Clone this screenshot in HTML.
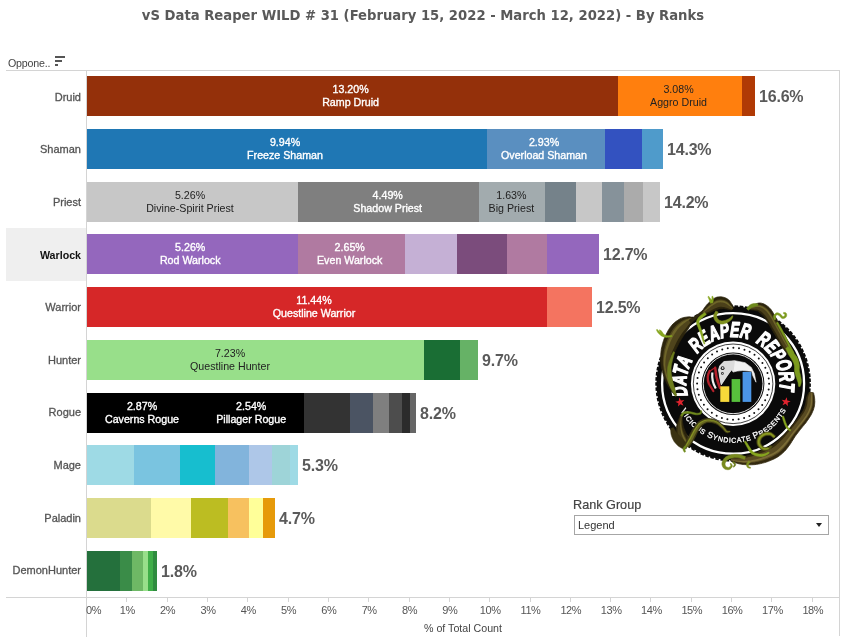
<!DOCTYPE html>
<html><head><meta charset="utf-8"><title>vS Data Reaper WILD # 31</title>
<style>
html,body{margin:0;padding:0;background:#fff;}
body{width:846px;height:640px;position:relative;overflow:hidden;font-family:"Liberation Sans",Arial,sans-serif;color:#555;}
.abs,.seg,.rl,.bl,.big,.tk,.tl,.ln{position:absolute;}
.title{position:absolute;left:0;top:5px;width:846px;text-align:center;font-family:"DejaVu Sans Condensed","Liberation Sans",sans-serif;font-weight:bold;font-size:14.67px;line-height:20px;color:#595959;white-space:nowrap;}
.ln{background:#d4d4d4;}
.rl{left:6px;width:75px;text-align:right;font-size:11px;line-height:14px;color:#555;white-space:nowrap;-webkit-text-stroke:0.3px #555;}
.bl{width:160px;margin-left:-80px;text-align:center;font-size:10.67px;line-height:13px;white-space:nowrap;}
.big{font-weight:bold;font-size:16px;letter-spacing:-0.2px;line-height:20px;color:#5a5a5a;white-space:nowrap;}
.tl{font-size:11px;letter-spacing:-0.4px;line-height:12px;color:#555;width:40px;margin-left:-20px;text-align:center;top:604px;white-space:nowrap;}
.tk{width:1px;height:5px;top:597px;background:#d4d4d4;}
</style></head><body>

<div class="title">vS Data Reaper WILD # 31 (February 15, 2022 - March 12, 2022) - By Ranks</div>
<div class="abs" style="left:8px;top:56px;font-size:10.67px;letter-spacing:-0.2px;line-height:14px;color:#444;">Oppone..</div>
<div class="abs" style="left:55px;top:56px;width:10px;height:2px;background:#555"></div>
<div class="abs" style="left:55px;top:60px;width:7px;height:2px;background:#555"></div>
<div class="abs" style="left:55px;top:64px;width:3px;height:2px;background:#555"></div>
<div class="ln" style="left:6px;top:70px;width:834px;height:1px"></div>
<div class="ln" style="left:839px;top:70px;width:1px;height:566px"></div>
<div class="ln" style="left:6px;top:597px;width:834px;height:1px"></div>
<div class="ln" style="left:86px;top:71px;width:1px;height:566px"></div>
<div class="abs" style="left:6px;top:228px;width:80px;height:53px;background:#efefef"></div>
<div class="rl" style="top:90px">Druid</div>
<div class="seg" style="left:87px;top:76px;width:531px;height:40px;background:#94300a"></div>
<div class="seg" style="left:618px;top:76px;width:124px;height:40px;background:#ff7f0e"></div>
<div class="seg" style="left:742px;top:76px;width:13px;height:40px;background:#b03a05"></div>
<div class="big" style="left:759px;top:87px">16.6%</div>
<div class="rl" style="top:142px">Shaman</div>
<div class="seg" style="left:87px;top:129px;width:400px;height:40px;background:#1f77b4"></div>
<div class="seg" style="left:487px;top:129px;width:118px;height:40px;background:#5a8fc0"></div>
<div class="seg" style="left:605px;top:129px;width:37px;height:40px;background:#3352c0"></div>
<div class="seg" style="left:642px;top:129px;width:21px;height:40px;background:#4f9bcb"></div>
<div class="big" style="left:667px;top:140px">14.3%</div>
<div class="rl" style="top:195px">Priest</div>
<div class="seg" style="left:87px;top:182px;width:211px;height:40px;background:#c7c7c7"></div>
<div class="seg" style="left:298px;top:182px;width:181px;height:40px;background:#7f7f7f"></div>
<div class="seg" style="left:479px;top:182px;width:66px;height:40px;background:#a2abae"></div>
<div class="seg" style="left:545px;top:182px;width:31px;height:40px;background:#75828a"></div>
<div class="seg" style="left:576px;top:182px;width:26px;height:40px;background:#c7c7c7"></div>
<div class="seg" style="left:602px;top:182px;width:22px;height:40px;background:#86929a"></div>
<div class="seg" style="left:624px;top:182px;width:19px;height:40px;background:#ababab"></div>
<div class="seg" style="left:643px;top:182px;width:17px;height:40px;background:#c7c7c7"></div>
<div class="big" style="left:664px;top:193px">14.2%</div>
<div class="rl" style="top:248px;font-weight:bold;font-size:10.67px;color:#111;-webkit-text-stroke:0">Warlock</div>
<div class="seg" style="left:87px;top:234px;width:211px;height:40px;background:#9467bd"></div>
<div class="seg" style="left:298px;top:234px;width:107px;height:40px;background:#b07aa1"></div>
<div class="seg" style="left:405px;top:234px;width:52px;height:40px;background:#c5b0d5"></div>
<div class="seg" style="left:457px;top:234px;width:50px;height:40px;background:#7b4c7c"></div>
<div class="seg" style="left:507px;top:234px;width:40px;height:40px;background:#b07aa1"></div>
<div class="seg" style="left:547px;top:234px;width:52px;height:40px;background:#9467bd"></div>
<div class="big" style="left:603px;top:245px">12.7%</div>
<div class="rl" style="top:300px">Warrior</div>
<div class="seg" style="left:87px;top:287px;width:460px;height:40px;background:#d62728"></div>
<div class="seg" style="left:547px;top:287px;width:45px;height:40px;background:#f47460"></div>
<div class="big" style="left:596px;top:298px">12.5%</div>
<div class="rl" style="top:353px">Hunter</div>
<div class="seg" style="left:87px;top:340px;width:337px;height:40px;background:#98df8a"></div>
<div class="seg" style="left:424px;top:340px;width:36px;height:40px;background:#1a6e34"></div>
<div class="seg" style="left:460px;top:340px;width:18px;height:40px;background:#66b266"></div>
<div class="big" style="left:482px;top:351px">9.7%</div>
<div class="rl" style="top:405px">Rogue</div>
<div class="seg" style="left:87px;top:393px;width:217px;height:40px;background:#000000"></div>
<div class="seg" style="left:304px;top:393px;width:46px;height:40px;background:#333333"></div>
<div class="seg" style="left:350px;top:393px;width:23px;height:40px;background:#4b5463"></div>
<div class="seg" style="left:373px;top:393px;width:16px;height:40px;background:#7f7f7f"></div>
<div class="seg" style="left:389px;top:393px;width:13px;height:40px;background:#4d4d4d"></div>
<div class="seg" style="left:402px;top:393px;width:8px;height:40px;background:#2b2b2b"></div>
<div class="seg" style="left:410px;top:393px;width:6px;height:40px;background:#666666"></div>
<div class="big" style="left:420px;top:404px">8.2%</div>
<div class="rl" style="top:458px">Mage</div>
<div class="seg" style="left:87px;top:445px;width:47px;height:40px;background:#9edae5"></div>
<div class="seg" style="left:134px;top:445px;width:46px;height:40px;background:#7ac4e0"></div>
<div class="seg" style="left:180px;top:445px;width:35px;height:40px;background:#17becf"></div>
<div class="seg" style="left:215px;top:445px;width:34px;height:40px;background:#82b4dc"></div>
<div class="seg" style="left:249px;top:445px;width:23px;height:40px;background:#aec7e8"></div>
<div class="seg" style="left:272px;top:445px;width:18px;height:40px;background:#9ed4d8"></div>
<div class="seg" style="left:290px;top:445px;width:8px;height:40px;background:#9edae5"></div>
<div class="big" style="left:302px;top:456px">5.3%</div>
<div class="rl" style="top:511px">Paladin</div>
<div class="seg" style="left:87px;top:498px;width:64px;height:40px;background:#dbdb8d"></div>
<div class="seg" style="left:151px;top:498px;width:40px;height:40px;background:#fffaa8"></div>
<div class="seg" style="left:191px;top:498px;width:37px;height:40px;background:#bcbd22"></div>
<div class="seg" style="left:228px;top:498px;width:21px;height:40px;background:#f7c15f"></div>
<div class="seg" style="left:249px;top:498px;width:14px;height:40px;background:#ffff99"></div>
<div class="seg" style="left:263px;top:498px;width:12px;height:40px;background:#e69a0a"></div>
<div class="big" style="left:279px;top:509px">4.7%</div>
<div class="rl" style="top:563px">DemonHunter</div>
<div class="seg" style="left:87px;top:551px;width:33px;height:40px;background:#24703c"></div>
<div class="seg" style="left:120px;top:551px;width:12px;height:40px;background:#3a8c48"></div>
<div class="seg" style="left:132px;top:551px;width:11px;height:40px;background:#6eb865"></div>
<div class="seg" style="left:143px;top:551px;width:5px;height:40px;background:#98df8a"></div>
<div class="seg" style="left:148px;top:551px;width:5px;height:40px;background:#3fae48"></div>
<div class="seg" style="left:153px;top:551px;width:4px;height:40px;background:#2f8c3f"></div>
<div class="big" style="left:161px;top:562px">1.8%</div>
<div class="bl" style="left:350.6px;top:83px;color:#fff;-webkit-text-stroke:0.35px #fff">13.20%<br>Ramp Druid</div>
<div class="bl" style="left:678.5px;top:83px;color:#222">3.08%<br>Aggro Druid</div>
<div class="bl" style="left:285.0px;top:136px;color:#fff;-webkit-text-stroke:0.35px #fff">9.94%<br>Freeze Shaman</div>
<div class="bl" style="left:544.0px;top:136px;color:#fff;-webkit-text-stroke:0.35px #fff">2.93%<br>Overload Shaman</div>
<div class="bl" style="left:190.0px;top:189px;color:#222">5.26%<br>Divine-Spirit Priest</div>
<div class="bl" style="left:387.7px;top:189px;color:#fff;-webkit-text-stroke:0.35px #fff">4.49%<br>Shadow Priest</div>
<div class="bl" style="left:511.4px;top:189px;color:#222">1.63%<br>Big Priest</div>
<div class="bl" style="left:190.2px;top:241px;color:#fff;-webkit-text-stroke:0.35px #fff">5.26%<br>Rod Warlock</div>
<div class="bl" style="left:349.7px;top:241px;color:#fff;-webkit-text-stroke:0.35px #fff">2.65%<br>Even Warlock</div>
<div class="bl" style="left:314.0px;top:294px;color:#fff;-webkit-text-stroke:0.35px #fff">11.44%<br>Questline Warrior</div>
<div class="bl" style="left:230.0px;top:347px;color:#222">7.23%<br>Questline Hunter</div>
<div class="bl" style="left:142.0px;top:400px;color:#fff;-webkit-text-stroke:0.35px #fff">2.87%<br>Caverns Rogue</div>
<div class="bl" style="left:251.2px;top:400px;color:#fff;-webkit-text-stroke:0.35px #fff">2.54%<br>Pillager Rogue</div>
<div class="tl" style="left:86px;margin-left:0;text-align:left">0%</div>
<div class="tk" style="left:126px"></div>
<div class="tl" style="left:127.3px">1%</div>
<div class="tk" style="left:167px"></div>
<div class="tl" style="left:167.6px">2%</div>
<div class="tk" style="left:207px"></div>
<div class="tl" style="left:208.0px">3%</div>
<div class="tk" style="left:247px"></div>
<div class="tl" style="left:248.3px">4%</div>
<div class="tk" style="left:288px"></div>
<div class="tl" style="left:288.6px">5%</div>
<div class="tk" style="left:328px"></div>
<div class="tl" style="left:328.9px">6%</div>
<div class="tk" style="left:368px"></div>
<div class="tl" style="left:369.2px">7%</div>
<div class="tk" style="left:409px"></div>
<div class="tl" style="left:409.6px">8%</div>
<div class="tk" style="left:449px"></div>
<div class="tl" style="left:449.9px">9%</div>
<div class="tk" style="left:489px"></div>
<div class="tl" style="left:490.2px">10%</div>
<div class="tk" style="left:530px"></div>
<div class="tl" style="left:530.5px">11%</div>
<div class="tk" style="left:570px"></div>
<div class="tl" style="left:570.8px">12%</div>
<div class="tk" style="left:610px"></div>
<div class="tl" style="left:611.2px">13%</div>
<div class="tk" style="left:650px"></div>
<div class="tl" style="left:651.5px">14%</div>
<div class="tk" style="left:691px"></div>
<div class="tl" style="left:691.8px">15%</div>
<div class="tk" style="left:731px"></div>
<div class="tl" style="left:732.1px">16%</div>
<div class="tk" style="left:771px"></div>
<div class="tl" style="left:772.4px">17%</div>
<div class="tk" style="left:812px"></div>
<div class="tl" style="left:812.8px">18%</div>
<div class="abs" style="left:363px;width:200px;text-align:center;top:622px;font-size:10.67px;line-height:13px;color:#444;">% of Total Count</div>
<div class="abs" style="left:573px;top:498px;font-size:12.67px;line-height:14px;color:#444;-webkit-text-stroke:0.2px #444;">Rank Group</div>
<div class="abs" style="left:574px;top:515px;width:253px;height:18px;border:1px solid #a6a6a6;background:#fff"></div>
<div class="abs" style="left:578px;top:518px;font-size:11px;line-height:14px;color:#333;">Legend</div>
<div class="abs" style="left:816px;top:523px;width:0;height:0;border-left:3.5px solid transparent;border-right:3.5px solid transparent;border-top:4px solid #222"></div>
<svg style="position:absolute;left:640px;top:285px" width="200" height="190" viewBox="640 285 200 190">
<defs><path id="arcTop" d="M 687.29 393.27 A 46.8 46.8 0 1 1 779.26 391.42"/><path id="arcBot" d="M 680.53 410.49 A 59 59 0 0 0 786.13 409.56"/></defs>
<ellipse cx="733.1" cy="383.4" rx="76.6" ry="76.9" fill="#0a0a0a"/>
<ellipse cx="733.1" cy="383.4" rx="76.9" ry="77.2" fill="none" stroke="#0a0a0a" stroke-width="1.8" stroke-dasharray="3.6 1.6"/>
<ellipse cx="733.1" cy="383.4" rx="71" ry="70.3" fill="none" stroke="#fff" stroke-width="2.3"/>
<circle cx="733.1" cy="383.8" r="42.2" fill="#fff"/>
<circle cx="733.1" cy="383.8" r="39.8" fill="none" stroke="#111" stroke-width="0.8"/>
<circle cx="733.1" cy="383.8" r="36" fill="none" stroke="#111" stroke-width="2" stroke-linecap="round" stroke-dasharray="0 5.655"/>
<circle cx="733.1" cy="383.8" r="31.3" fill="#0a0a0a"/>
<circle cx="733.1" cy="383.8" r="29.9" fill="none" stroke="#fff" stroke-width="0.9"/>
<path d="M719.7 365.8 L724.0 361.5 L734.9 360.7 L745.1 362.7 L751.3 367.4 L754.4 373.6 L756.0 382.2 L752.7 375.6 L751.7 371.3 L742.7 370.5 L737.2 371.1 L733.0 372.1 L731.8 369.7 L729.4 372.8 L725.5 378.3 L721.2 385.0 L719.7 377.5 L718.5 369.7 Z" fill="#f1f1f1" stroke="#f1f1f1" stroke-width="0.6" stroke-linejoin="round"/>
<path d="M724 361.5 L734.9 360.7 L733.6 371.5 L731.8 369.7 L729.4 372.8 L721.2 385 L719.7 377.5 L718.5 369.7 L719.7 365.8Z" fill="#dcdcdc"/>
<circle cx="722.6" cy="368.2" r="1.9" fill="#222"/><circle cx="722.7" cy="368" r="0.9" fill="#ddd"/>
<circle cx="722.4" cy="373.4" r="1.3" fill="#222"/><circle cx="722.5" cy="373.3" r="0.6" fill="#ddd"/>
<path d="M709.6 371 C707.4 375 707.2 380 709 384 L713.3 391" fill="none" stroke="#b3202a" stroke-width="2.3" stroke-linecap="round" stroke-linejoin="round"/>
<path d="M715.2 367.6 C715.6 375 717.5 382 720 388" fill="none" stroke="#b3202a" stroke-width="2.4" stroke-linecap="round"/>
<path d="M709.8 371.2 L714.8 367.8" fill="none" stroke="#b3202a" stroke-width="1.2" stroke-linecap="round"/>
<path d="M712.3 372.5 C711.8 378 712.8 383.5 715.8 388.5" fill="none" stroke="#f1f1f1" stroke-width="2.2"/>
<rect x="720.3" y="386.3" width="9" height="15.6" fill="#f7d93a"/>
<rect x="731.6" y="379.1" width="8.6" height="22.8" fill="#57c13c"/>
<rect x="742.6" y="371.9" width="8.7" height="30" fill="#4b96e6"/>
<path d="M0 -4.8 L1.13 -1.56 L4.57 -1.48 L1.83 0.6 L2.82 3.88 L0 1.92 L-2.82 3.88 L-1.83 0.6 L-4.57 -1.48 L-1.13 -1.56 Z" transform="translate(680.1 402.3) rotate(-10)" fill="#e0232e"/>
<path d="M0 -4.8 L1.13 -1.56 L4.57 -1.48 L1.83 0.6 L2.82 3.88 L0 1.92 L-2.82 3.88 L-1.83 0.6 L-4.57 -1.48 L-1.13 -1.56 Z" transform="translate(785.9 401.9) rotate(10)" fill="#e0232e"/>
<path id="arcW0" d="M 687.77 395.34 A 46.8 46.8 0 0 1 692.73 360.02" fill="none"/>
<text font-family="'Liberation Sans',Arial,sans-serif" font-weight="bold" font-style="italic" font-size="21" fill="#fff" stroke="#fff" stroke-width="1.5" stroke-linejoin="round" textLength="36.6" lengthAdjust="spacingAndGlyphs"><textPath href="#arcW0" textLength="36.6" lengthAdjust="spacingAndGlyphs">DATA</textPath></text>
<path id="arcW1" d="M 697.14 353.74 A 46.8 46.8 0 0 1 748.49 339.50" fill="none"/>
<text font-family="'Liberation Sans',Arial,sans-serif" font-weight="bold" font-style="italic" font-size="21" fill="#fff" stroke="#fff" stroke-width="1.5" stroke-linejoin="round" textLength="56.7" lengthAdjust="spacingAndGlyphs"><textPath href="#arcW1" textLength="56.7" lengthAdjust="spacingAndGlyphs">REAPER</textPath></text>
<path id="arcW2" d="M 755.36 342.53 A 46.8 46.8 0 0 1 779.42 390.38" fill="none"/>
<text font-family="'Liberation Sans',Arial,sans-serif" font-weight="bold" font-style="italic" font-size="21" fill="#fff" stroke="#fff" stroke-width="1.5" stroke-linejoin="round" textLength="57.0" lengthAdjust="spacingAndGlyphs"><textPath href="#arcW2" textLength="57.0" lengthAdjust="spacingAndGlyphs">REPORT</textPath></text>
<text font-family="'Liberation Sans',Arial,sans-serif" font-size="7" fill="#fff" stroke="#fff" stroke-width="0.3" textLength="130" lengthAdjust="spacing"><textPath href="#arcBot" textLength="130" lengthAdjust="spacing"><tspan font-size="8.6">V</tspan>ICIOUS <tspan font-size="8.6">S</tspan>YNDICATE <tspan font-size="8.6">P</tspan>RESENTS</textPath></text>
<g>
<path d="M676.2 394.7 L676.0 394.0 L675.7 393.0 L675.4 391.8 L675.0 390.6 L674.6 389.3 L674.3 388.2 L674.0 387.0 L673.6 385.8 L673.3 384.6 L672.9 383.4 L672.6 382.2 L672.3 380.9 L672.0 379.7 L671.7 378.4 L671.4 377.1 L671.1 375.9 L670.8 374.6 L670.7 373.2 L670.5 371.7 L670.4 370.1 L670.3 368.5 L670.2 367.0 L670.3 365.4 L670.5 364.0 L670.7 362.6 L671.1 361.1 L671.6 359.7 L672.1 358.2 L672.6 356.7 L673.1 355.3 L673.6 354.1 L674.1 353.0 L674.6 352.0 L675.1 350.9 L675.7 349.8 L676.3 348.6 L676.9 347.3 L677.5 346.2 L678.0 345.0 L678.6 343.9 L679.2 342.7 L679.9 341.6 L680.6 340.4 L681.3 339.2 L682.0 338.0 L682.8 336.8 L683.5 335.8 L684.1 334.8 L684.7 333.9 L685.4 332.9 L686.1 331.9 L686.8 330.9 L687.6 329.9 L688.2 329.0 L688.7 328.1 L689.2 327.2 L689.6 326.3 L690.1 325.5 L690.6 324.7 L691.0 324.0 L691.3 323.3 L691.7 322.8 L692.1 322.2 L692.5 321.7 L692.9 321.2 L693.2 320.9 L691.8 317.1 L691.4 317.1 L690.8 317.0 L690.0 316.9 L689.1 316.8 L688.1 316.9 L687.0 317.0 L686.0 317.2 L684.9 317.3 L683.7 317.6 L682.4 317.9 L681.1 318.4 L679.8 319.0 L678.5 319.7 L677.3 320.6 L675.9 321.5 L674.6 322.6 L673.2 323.8 L671.9 325.2 L670.7 326.7 L669.6 328.2 L668.6 329.8 L667.7 331.3 L666.9 332.9 L666.1 334.4 L665.4 335.9 L664.7 337.5 L664.1 339.0 L663.6 340.5 L663.1 342.0 L662.7 343.4 L662.3 344.9 L662.0 346.3 L661.6 347.8 L661.3 349.3 L661.1 351.0 L660.9 352.7 L660.8 354.4 L660.7 356.2 L660.7 358.1 L660.7 360.0 L660.8 362.0 L661.0 364.0 L661.2 366.0 L661.5 367.9 L662.0 369.7 L662.4 371.5 L662.9 373.2 L663.3 374.8 L663.8 376.4 L664.4 377.8 L664.9 379.2 L665.5 380.6 L666.1 381.8 L666.7 383.1 L667.3 384.3 L668.0 385.5 L668.6 386.6 L669.3 387.7 L670.0 388.8 L670.7 389.8 L671.4 390.9 L672.2 392.0 L673.0 393.0 L673.8 394.0 L674.4 394.8 L674.8 395.3Z" fill="#2c250d" stroke="#2c250d" stroke-width="0.8" stroke-linejoin="round"/>
<path d="M675.9 394.8 L675.7 394.1 L675.4 393.2 L675.0 392.0 L674.5 390.8 L674.1 389.6 L673.7 388.4 L673.3 387.3 L672.9 386.1 L672.5 385.0 L672.1 383.8 L671.7 382.5 L671.4 381.3 L671.0 380.0 L670.6 378.8 L670.3 377.5 L669.9 376.2 L669.7 374.9 L669.4 373.5 L669.2 372.0 L669.0 370.4 L668.9 368.7 L668.8 367.1 L668.8 365.5 L668.8 364.0 L669.0 362.5 L669.3 361.0 L669.7 359.4 L670.1 357.8 L670.6 356.3 L671.0 354.9 L671.5 353.6 L671.9 352.4 L672.4 351.3 L672.9 350.1 L673.4 348.9 L674.0 347.7 L674.5 346.4 L675.1 345.2 L675.7 344.0 L676.3 342.8 L676.9 341.6 L677.5 340.4 L678.2 339.1 L679.0 337.9 L679.8 336.6 L680.5 335.4 L681.3 334.2 L682.0 333.2 L682.7 332.2 L683.5 331.2 L684.4 330.2 L685.2 329.2 L686.0 328.2 L686.8 327.3 L687.4 326.4 L688.0 325.6 L688.6 324.9 L689.2 324.1 L689.8 323.4 L690.3 322.8 L690.8 322.3 L691.3 321.7 L691.7 321.3 L692.2 320.9 L692.6 320.5 L693.0 320.2 L692.1 317.9 L691.7 317.9 L691.2 318.0 L690.5 318.0 L689.7 318.1 L688.8 318.2 L687.9 318.5 L686.9 318.8 L686.0 319.1 L684.9 319.4 L683.8 319.9 L682.7 320.5 L681.6 321.1 L680.4 321.9 L679.3 322.7 L678.1 323.7 L676.8 324.8 L675.6 325.9 L674.5 327.2 L673.4 328.6 L672.4 330.0 L671.5 331.5 L670.6 333.0 L669.8 334.5 L669.0 335.9 L668.3 337.4 L667.7 338.8 L667.1 340.3 L666.5 341.7 L666.0 343.1 L665.6 344.5 L665.1 345.9 L664.7 347.3 L664.4 348.7 L664.0 350.1 L663.7 351.6 L663.5 353.2 L663.3 354.9 L663.1 356.6 L663.0 358.4 L662.9 360.3 L662.9 362.1 L662.9 364.0 L663.1 365.8 L663.4 367.7 L663.7 369.5 L664.1 371.2 L664.5 372.9 L664.9 374.5 L665.3 376.0 L665.8 377.4 L666.3 378.8 L666.8 380.1 L667.3 381.4 L667.9 382.6 L668.4 383.8 L669.0 385.0 L669.6 386.2 L670.2 387.3 L670.8 388.4 L671.4 389.5 L672.1 390.6 L672.8 391.7 L673.5 392.8 L674.2 393.8 L674.7 394.6 L675.1 395.2Z" fill="#4f441c"/>
<path d="M675.4 395.0 L675.1 394.4 L674.6 393.5 L674.1 392.5 L673.5 391.4 L672.9 390.2 L672.4 389.1 L671.8 388.0 L671.3 386.9 L670.8 385.7 L670.3 384.5 L669.8 383.3 L669.3 382.1 L668.8 380.8 L668.3 379.6 L667.9 378.3 L667.5 376.9 L667.1 375.5 L666.7 374.1 L666.4 372.5 L666.1 370.9 L665.8 369.2 L665.5 367.4 L665.4 365.7 L665.3 364.0 L665.4 362.3 L665.5 360.5 L665.7 358.8 L665.9 357.1 L666.2 355.5 L666.5 353.9 L666.8 352.4 L667.2 351.0 L667.6 349.7 L668.0 348.4 L668.5 347.1 L669.0 345.8 L669.5 344.5 L670.0 343.1 L670.5 341.8 L671.1 340.4 L671.8 339.1 L672.5 337.7 L673.2 336.3 L674.0 334.9 L674.8 333.5 L675.7 332.2 L676.6 330.9 L677.5 329.6 L678.5 328.5 L679.5 327.3 L680.6 326.3 L681.7 325.3 L682.7 324.4 L683.7 323.6 L684.6 322.9 L685.5 322.2 L686.4 321.6 L687.3 321.1 L688.1 320.6 L688.8 320.2 L689.6 319.9 L690.3 319.6 L691.0 319.3 L691.6 319.1 L692.1 319.0 L692.4 318.9 L692.2 318.3 L691.8 318.3 L691.3 318.4 L690.7 318.5 L689.9 318.6 L689.1 318.8 L688.2 319.1 L687.3 319.4 L686.4 319.8 L685.5 320.2 L684.4 320.7 L683.4 321.3 L682.3 322.0 L681.2 322.8 L680.1 323.7 L679.0 324.6 L677.8 325.7 L676.7 326.8 L675.6 328.1 L674.5 329.4 L673.6 330.8 L672.7 332.2 L671.8 333.7 L671.0 335.1 L670.3 336.6 L669.6 338.0 L668.9 339.4 L668.3 340.8 L667.8 342.2 L667.3 343.6 L666.8 345.0 L666.3 346.3 L665.9 347.7 L665.5 349.0 L665.2 350.4 L664.8 351.9 L664.6 353.5 L664.3 355.1 L664.1 356.8 L663.9 358.6 L663.8 360.4 L663.8 362.2 L663.8 364.0 L663.9 365.8 L664.2 367.6 L664.4 369.4 L664.8 371.1 L665.2 372.7 L665.5 374.3 L665.9 375.8 L666.4 377.2 L666.9 378.6 L667.4 379.9 L667.9 381.2 L668.4 382.4 L668.9 383.7 L669.5 384.9 L670.0 386.0 L670.6 387.2 L671.2 388.3 L671.8 389.3 L672.4 390.4 L673.1 391.6 L673.7 392.7 L674.3 393.7 L674.9 394.5 L675.2 395.1Z" fill="#6d6428"/>

<path d="M676.6 395.8 L676.4 395.1 L676.2 394.1 L675.9 393.0 L675.6 391.8 L675.3 390.6 L675.0 389.4 L674.7 388.3 L674.3 387.1 L674.0 386.0 L673.6 384.8 L673.3 383.6 L673.0 382.4 L672.7 381.2 L672.4 380.0 L672.2 378.7 L671.9 377.4 L671.7 376.1 L671.5 374.8 L671.3 373.5 L671.2 372.3 L671.1 371.0 L671.1 369.7 L671.1 368.5 L671.2 367.2 L671.3 366.0 L671.5 364.7 L671.8 363.3 L672.1 362.0 L672.4 360.7 L672.7 359.4 L673.1 358.1 L673.4 356.7 L673.8 355.3 L674.2 354.1 L674.5 353.0 L674.7 352.3 L673.3 351.7 L673.0 352.5 L672.5 353.5 L671.9 354.7 L671.3 356.0 L670.8 357.3 L670.3 358.6 L669.8 359.9 L669.3 361.2 L668.9 362.5 L668.5 363.9 L668.1 365.4 L667.8 366.8 L667.6 368.2 L667.5 369.6 L667.4 371.0 L667.4 372.4 L667.4 373.8 L667.5 375.2 L667.6 376.6 L667.8 378.0 L668.0 379.5 L668.3 380.9 L668.6 382.2 L669.0 383.6 L669.4 384.8 L669.9 386.1 L670.4 387.3 L670.9 388.4 L671.5 389.5 L672.0 390.6 L672.6 391.7 L673.3 392.8 L673.9 393.9 L674.5 394.8 L675.1 395.6 L675.4 396.2Z" fill="#6e7d1e" stroke="#6e7d1e" stroke-width="0.5" stroke-linejoin="round"/>

<path d="M691.0 322.9 L691.8 322.3 L692.8 321.5 L694.0 320.6 L695.3 319.6 L696.6 318.6 L697.8 317.7 L699.1 317.0 L700.5 316.2 L701.9 315.4 L703.2 314.7 L704.3 314.1 L705.1 313.7 L702.9 310.3 L702.2 310.8 L701.2 311.6 L700.0 312.5 L698.7 313.4 L697.4 314.4 L696.2 315.3 L694.9 316.1 L693.5 317.1 L692.1 318.0 L690.8 318.8 L689.8 319.6 L689.0 320.1Z" fill="#2e2710" stroke="#2e2710" stroke-width="0.5" stroke-linejoin="round"/>

<path d="M703.9 314.2 L704.5 314.1 L705.2 313.9 L706.1 313.7 L707.1 313.4 L708.1 313.1 L709.1 312.8 L710.1 312.4 L711.2 311.9 L712.2 311.4 L713.2 311.0 L714.2 310.6 L715.2 310.2 L716.2 309.8 L717.2 309.5 L718.1 309.2 L718.9 309.0 L719.4 308.9 L719.8 308.9 L720.1 308.8 L720.5 308.8 L721.0 308.8 L721.5 308.8 L722.2 308.7 L722.7 308.7 L723.2 308.6 L723.9 308.6 L724.7 308.7 L725.6 308.9 L726.6 309.1 L727.5 309.3 L728.2 309.5 L729.0 309.6 L729.7 309.7 L730.4 309.9 L731.1 310.0 L731.5 310.1 L733.5 307.9 L733.3 307.5 L733.1 306.9 L732.9 306.2 L732.5 305.3 L732.1 304.5 L731.5 303.7 L731.0 302.9 L730.4 302.0 L729.7 301.0 L728.8 300.0 L727.6 299.1 L726.3 298.3 L724.9 297.7 L723.6 297.3 L722.2 297.0 L720.6 296.8 L719.0 296.9 L717.2 297.1 L715.5 297.7 L714.1 298.4 L712.8 299.3 L711.7 300.1 L710.7 301.0 L709.8 301.8 L708.9 302.7 L707.9 303.6 L707.0 304.6 L706.2 305.5 L705.5 306.4 L704.9 307.2 L704.3 308.0 L703.7 308.9 L703.2 309.8 L702.8 310.6 L702.4 311.3 L702.1 311.8Z" fill="#2c250d" stroke="#2c250d" stroke-width="0.8" stroke-linejoin="round"/>
<path d="M703.6 313.8 L704.1 313.6 L704.8 313.3 L705.6 313.0 L706.5 312.7 L707.5 312.3 L708.4 311.9 L709.3 311.4 L710.3 310.8 L711.3 310.3 L712.3 309.7 L713.3 309.2 L714.3 308.8 L715.3 308.3 L716.3 307.9 L717.2 307.5 L718.1 307.2 L718.8 307.0 L719.3 306.9 L719.9 306.8 L720.5 306.8 L721.2 306.8 L721.9 306.8 L722.6 306.9 L723.3 306.9 L724.0 307.0 L724.7 307.2 L725.5 307.4 L726.4 307.7 L727.3 308.1 L728.2 308.4 L728.9 308.6 L729.6 308.9 L730.3 309.1 L730.9 309.4 L731.4 309.6 L731.8 309.7 L733.1 308.3 L732.9 308.0 L732.6 307.5 L732.2 306.9 L731.8 306.2 L731.3 305.5 L730.7 304.9 L730.1 304.2 L729.4 303.4 L728.6 302.6 L727.7 301.8 L726.7 301.1 L725.5 300.5 L724.4 300.0 L723.2 299.7 L721.9 299.4 L720.6 299.3 L719.2 299.4 L717.8 299.6 L716.4 300.0 L715.1 300.7 L713.9 301.3 L712.9 302.1 L711.9 302.8 L711.0 303.5 L710.0 304.3 L709.0 305.2 L708.1 306.0 L707.3 306.8 L706.5 307.6 L705.8 308.4 L705.1 309.1 L704.4 309.9 L703.8 310.6 L703.3 311.3 L702.8 311.9 L702.5 312.3Z" fill="#4b401a"/>
<path d="M702.9 312.9 L703.3 312.6 L703.9 312.1 L704.5 311.6 L705.3 311.0 L706.0 310.4 L706.8 309.8 L707.6 309.1 L708.5 308.4 L709.4 307.7 L710.4 307.0 L711.3 306.3 L712.3 305.7 L713.3 305.0 L714.2 304.4 L715.3 303.8 L716.3 303.3 L717.3 302.8 L718.4 302.5 L719.5 302.4 L720.5 302.3 L721.6 302.4 L722.7 302.6 L723.7 302.8 L724.6 303.1 L725.6 303.5 L726.5 304.0 L727.4 304.6 L728.2 305.2 L729.0 305.7 L729.7 306.3 L730.3 306.8 L730.9 307.3 L731.4 307.8 L731.9 308.3 L732.3 308.6 L732.6 308.9 L732.9 308.5 L732.7 308.2 L732.3 307.8 L731.9 307.2 L731.5 306.6 L730.9 306.0 L730.3 305.4 L729.7 304.7 L729.0 304.1 L728.2 303.3 L727.3 302.6 L726.3 302.0 L725.2 301.4 L724.1 301.0 L723.0 300.7 L721.8 300.5 L720.6 300.4 L719.3 300.5 L718.0 300.7 L716.7 301.0 L715.5 301.6 L714.4 302.2 L713.4 302.9 L712.4 303.6 L711.4 304.3 L710.5 305.0 L709.5 305.8 L708.6 306.6 L707.7 307.4 L706.9 308.2 L706.2 308.9 L705.4 309.6 L704.7 310.3 L704.1 311.0 L703.5 311.6 L703.0 312.1 L702.6 312.5Z" fill="#6d6428"/>

<path d="M704.8 312.4 L704.2 312.9 L703.2 313.6 L702.1 314.4 L700.9 315.3 L699.9 316.2 L699.0 317.0 L698.3 317.8 L697.8 318.5 L697.3 319.2 L696.9 320.1 L696.6 321.0 L696.5 321.9 L696.6 323.0 L696.8 324.0 L697.1 325.0 L697.5 326.0 L697.9 327.0 L698.3 327.9 L698.6 328.9 L699.1 329.9 L699.5 331.0 L700.0 332.0 L700.4 333.0 L700.7 334.0 L701.1 335.1 L701.4 336.1 L701.7 337.2 L702.0 338.3 L702.3 339.3 L702.6 340.2 L702.9 341.0 L703.2 341.8 L703.5 342.5 L703.7 343.2 L704.0 343.7 L704.1 344.1 L704.9 343.9 L704.8 343.5 L704.7 342.9 L704.5 342.2 L704.3 341.5 L704.2 340.7 L704.0 339.8 L703.8 338.9 L703.6 337.9 L703.4 336.8 L703.2 335.7 L702.9 334.6 L702.7 333.5 L702.3 332.4 L702.0 331.3 L701.6 330.2 L701.2 329.1 L700.9 328.1 L700.5 327.1 L700.2 326.1 L699.8 325.1 L699.5 324.2 L699.3 323.4 L699.1 322.7 L699.1 322.1 L699.2 321.5 L699.4 321.1 L699.6 320.6 L700.0 320.1 L700.5 319.6 L701.0 319.0 L701.7 318.2 L702.7 317.4 L703.8 316.5 L704.8 315.7 L705.8 314.9 L706.4 314.4Z" fill="#86a51f" stroke="#86a51f" stroke-width="0.5" stroke-linejoin="round"/>

<path d="M715.8 310.9 L715.6 311.4 L715.2 312.0 L714.7 312.9 L714.3 313.8 L713.9 314.9 L713.7 316.0 L713.8 317.0 L713.9 318.0 L714.3 319.0 L714.7 319.9 L715.2 320.8 L715.8 321.6 L716.6 322.3 L717.4 322.9 L718.4 323.3 L719.3 323.7 L720.3 324.0 L721.4 324.1 L722.5 324.1 L723.6 323.9 L724.7 323.6 L725.7 323.3 L726.7 322.9 L727.6 322.5 L728.4 322.0 L729.2 321.5 L729.9 320.9 L730.6 320.3 L731.2 319.8 L731.7 319.2 L732.1 318.6 L732.4 318.0 L732.6 317.4 L732.8 316.9 L732.9 316.5 L732.9 316.2 L732.1 315.8 L731.9 316.0 L731.6 316.4 L731.4 316.8 L731.0 317.1 L730.7 317.5 L730.3 317.8 L729.8 318.1 L729.2 318.5 L728.6 318.9 L727.9 319.3 L727.2 319.6 L726.4 319.9 L725.7 320.2 L724.8 320.4 L723.9 320.7 L723.0 320.8 L722.3 320.9 L721.6 320.9 L721.0 320.8 L720.3 320.6 L719.7 320.4 L719.1 320.1 L718.6 319.7 L718.2 319.4 L717.8 319.0 L717.5 318.4 L717.2 317.8 L716.9 317.2 L716.8 316.6 L716.7 316.0 L716.7 315.5 L716.9 314.9 L717.2 314.1 L717.6 313.3 L717.9 312.6 L718.2 312.1Z" fill="#7f901f" stroke="#7f901f" stroke-width="0.5" stroke-linejoin="round"/>

<path d="M665.0 335.0 L664.6 334.8 L664.2 334.6 L663.7 334.3 L663.1 334.1 L662.6 333.8 L662.2 333.5 L661.7 333.2 L661.1 332.8 L660.6 332.5 L660.1 332.1 L659.6 331.7 L659.2 331.4 L658.8 331.0 L658.4 330.7 L658.0 330.3 L657.7 329.9 L657.4 329.5 L657.1 329.3 L656.5 329.7 L656.6 330.0 L656.7 330.4 L656.9 330.9 L657.2 331.5 L657.5 332.1 L657.8 332.6 L658.3 333.1 L658.7 333.6 L659.2 334.1 L659.8 334.6 L660.3 335.1 L660.8 335.5 L661.4 335.9 L662.1 336.2 L662.7 336.5 L663.3 336.7 L663.7 336.9 L664.0 337.0Z" fill="#86a51f" stroke="#86a51f" stroke-width="0.5" stroke-linejoin="round"/>

<path d="M663.9 335.1 L663.7 334.7 L663.5 334.3 L663.3 333.7 L662.9 333.1 L662.6 332.6 L662.3 332.0 L661.9 331.5 L661.4 331.1 L660.9 330.6 L660.5 330.2 L660.1 329.9 L659.9 329.7 L659.1 330.3 L659.3 330.6 L659.6 331.0 L659.9 331.5 L660.2 332.0 L660.5 332.5 L660.7 333.0 L661.0 333.5 L661.2 334.0 L661.5 334.6 L661.7 335.1 L661.9 335.6 L662.1 335.9Z" fill="#86a51f" stroke="#86a51f" stroke-width="0.5" stroke-linejoin="round"/>

<path d="M664.4 337.3 L664.8 337.3 L665.3 337.3 L665.9 337.3 L666.6 337.4 L667.3 337.3 L668.0 337.3 L668.8 337.2 L669.5 337.1 L670.3 336.9 L671.0 336.7 L671.6 336.6 L672.1 336.5 L671.9 335.5 L671.5 335.5 L670.9 335.6 L670.1 335.6 L669.4 335.7 L668.6 335.7 L668.0 335.7 L667.4 335.7 L666.7 335.6 L666.1 335.5 L665.5 335.4 L665.0 335.4 L664.6 335.3Z" fill="#86a51f" stroke="#86a51f" stroke-width="0.5" stroke-linejoin="round"/>

<path d="M712.4 302.6 L712.3 302.2 L712.0 301.7 L711.8 301.1 L711.5 300.4 L711.1 299.7 L710.8 299.1 L710.4 298.5 L710.0 298.0 L709.6 297.4 L709.2 297.0 L708.9 296.6 L708.7 296.3 L707.9 296.7 L708.1 297.1 L708.2 297.6 L708.5 298.1 L708.7 298.7 L709.0 299.3 L709.2 299.9 L709.4 300.5 L709.7 301.1 L710.0 301.8 L710.2 302.4 L710.4 303.0 L710.6 303.4Z" fill="#86a51f" stroke="#86a51f" stroke-width="0.5" stroke-linejoin="round"/>

<path d="M712.9 302.7 L712.9 302.3 L713.1 301.7 L713.2 301.1 L713.3 300.4 L713.4 299.7 L713.4 299.1 L713.4 298.5 L713.3 297.9 L713.2 297.4 L713.0 296.9 L712.9 296.5 L712.8 296.3 L712.0 296.3 L711.9 296.6 L711.9 297.0 L711.9 297.5 L711.9 298.0 L711.9 298.5 L711.8 298.9 L711.7 299.5 L711.6 300.1 L711.5 300.8 L711.3 301.4 L711.2 301.9 L711.1 302.3Z" fill="#86a51f" stroke="#86a51f" stroke-width="0.5" stroke-linejoin="round"/>

<path d="M750.3 309.7 L750.9 309.8 L751.7 309.9 L752.6 310.0 L753.6 310.1 L754.5 310.3 L755.4 310.5 L756.2 310.7 L757.0 310.8 L757.7 311.0 L758.1 311.3 L758.4 311.5 L758.6 311.8 L759.0 312.1 L759.6 312.5 L760.2 313.0 L760.8 313.5 L761.5 314.1 L762.0 314.6 L762.6 315.2 L763.2 315.8 L763.8 316.6 L764.5 317.5 L765.2 318.5 L766.0 319.5 L766.7 320.6 L767.4 321.8 L768.2 323.0 L768.9 324.4 L769.7 325.8 L770.6 327.2 L771.4 328.6 L772.3 330.1 L773.1 331.5 L774.0 333.0 L774.9 334.5 L775.8 336.0 L776.6 337.5 L777.4 339.1 L778.3 340.7 L779.2 342.3 L780.1 343.9 L781.0 345.5 L782.0 347.0 L783.0 348.4 L784.0 349.7 L785.0 351.0 L785.9 352.2 L786.8 353.2 L787.6 354.3 L788.5 355.2 L789.4 356.1 L790.2 356.9 L790.8 357.6 L791.3 358.1 L794.7 355.9 L794.4 355.3 L794.1 354.4 L793.7 353.4 L793.3 352.2 L792.8 351.0 L792.2 349.8 L791.6 348.5 L790.9 347.1 L790.2 345.8 L789.5 344.4 L788.7 342.9 L788.0 341.5 L787.2 340.1 L786.5 338.5 L785.7 336.9 L784.9 335.3 L784.1 333.6 L783.2 332.0 L782.4 330.4 L781.6 328.8 L780.8 327.3 L780.0 325.7 L779.2 324.3 L778.4 322.8 L777.7 321.4 L777.0 320.0 L776.3 318.6 L775.5 317.2 L774.8 315.8 L774.0 314.5 L773.3 313.2 L772.6 312.0 L771.8 310.8 L771.0 309.6 L770.0 308.5 L769.0 307.4 L767.8 306.4 L766.6 305.5 L765.4 304.8 L764.1 304.1 L762.8 303.6 L761.4 303.2 L759.9 303.0 L758.5 303.1 L757.3 303.4 L756.3 303.8 L755.4 304.2 L754.6 304.5 L753.7 305.0 L752.7 305.5 L751.8 306.0 L750.9 306.5 L750.2 307.0 L749.7 307.3Z" fill="#2c250d" stroke="#2c250d" stroke-width="0.8" stroke-linejoin="round"/>
<path d="M750.2 309.3 L750.8 309.3 L751.6 309.3 L752.5 309.3 L753.5 309.3 L754.4 309.4 L755.2 309.5 L756.1 309.5 L756.9 309.6 L757.6 309.7 L758.2 309.9 L758.7 310.1 L759.1 310.3 L759.7 310.7 L760.3 311.1 L761.1 311.6 L761.8 312.1 L762.5 312.8 L763.2 313.4 L763.9 314.0 L764.5 314.8 L765.2 315.6 L765.9 316.6 L766.6 317.6 L767.3 318.7 L768.1 319.8 L768.8 321.0 L769.5 322.3 L770.3 323.6 L771.1 325.0 L771.9 326.4 L772.7 327.9 L773.6 329.3 L774.4 330.8 L775.3 332.3 L776.2 333.8 L777.0 335.3 L777.9 336.9 L778.7 338.4 L779.6 340.1 L780.4 341.7 L781.3 343.3 L782.2 344.8 L783.1 346.3 L784.1 347.7 L785.0 349.1 L786.0 350.3 L786.9 351.5 L787.7 352.6 L788.5 353.7 L789.3 354.7 L790.1 355.7 L790.8 356.5 L791.4 357.2 L791.9 357.7 L794.0 356.4 L793.7 355.8 L793.3 354.9 L792.8 353.9 L792.3 352.8 L791.7 351.7 L791.1 350.5 L790.4 349.3 L789.7 348.0 L788.9 346.6 L788.1 345.2 L787.3 343.8 L786.5 342.4 L785.7 340.9 L785.0 339.3 L784.1 337.7 L783.3 336.1 L782.5 334.4 L781.7 332.8 L780.8 331.3 L780.0 329.7 L779.2 328.2 L778.4 326.7 L777.6 325.2 L776.8 323.7 L776.0 322.3 L775.3 320.9 L774.6 319.5 L773.8 318.1 L773.1 316.8 L772.3 315.5 L771.6 314.3 L770.9 313.2 L770.1 312.0 L769.3 310.9 L768.5 309.9 L767.5 308.9 L766.5 308.0 L765.4 307.2 L764.3 306.5 L763.2 305.9 L762.0 305.4 L760.8 305.0 L759.6 304.8 L758.4 304.8 L757.3 305.0 L756.4 305.2 L755.6 305.5 L754.8 305.8 L753.9 306.1 L752.9 306.4 L751.9 306.8 L751.1 307.2 L750.4 307.6 L749.8 307.8Z" fill="#4b401a"/>
<path d="M750.0 308.4 L750.5 308.3 L751.3 308.1 L752.2 307.8 L753.1 307.6 L754.1 307.4 L755.0 307.3 L755.8 307.1 L756.6 307.0 L757.5 306.9 L758.3 306.9 L759.2 306.9 L760.1 307.2 L761.1 307.5 L762.0 308.0 L763.0 308.5 L764.0 309.2 L764.9 309.9 L765.8 310.7 L766.6 311.6 L767.4 312.5 L768.1 313.5 L768.9 314.5 L769.6 315.6 L770.3 316.8 L771.1 318.0 L771.8 319.3 L772.5 320.6 L773.3 322.0 L774.0 323.4 L774.8 324.8 L775.6 326.3 L776.4 327.7 L777.3 329.2 L778.1 330.8 L779.0 332.3 L779.8 333.8 L780.6 335.4 L781.5 337.0 L782.3 338.7 L783.1 340.3 L784.0 341.8 L784.8 343.3 L785.6 344.8 L786.5 346.2 L787.3 347.6 L788.2 348.9 L789.0 350.2 L789.7 351.4 L790.4 352.5 L791.1 353.6 L791.7 354.6 L792.3 355.6 L792.8 356.3 L793.1 356.9 L793.7 356.6 L793.4 356.0 L792.9 355.2 L792.4 354.2 L791.9 353.1 L791.2 352.0 L790.6 350.8 L789.9 349.6 L789.1 348.3 L788.3 347.0 L787.5 345.6 L786.7 344.1 L785.9 342.7 L785.1 341.2 L784.3 339.7 L783.5 338.1 L782.7 336.4 L781.8 334.8 L781.0 333.2 L780.2 331.6 L779.3 330.1 L778.5 328.6 L777.7 327.0 L776.9 325.6 L776.1 324.1 L775.3 322.7 L774.6 321.3 L773.8 319.9 L773.1 318.6 L772.4 317.2 L771.6 316.0 L770.9 314.8 L770.1 313.7 L769.4 312.6 L768.6 311.5 L767.8 310.5 L766.9 309.6 L765.9 308.7 L764.9 307.9 L763.8 307.2 L762.7 306.6 L761.7 306.2 L760.6 305.8 L759.4 305.6 L758.4 305.6 L757.4 305.7 L756.5 305.9 L755.7 306.1 L754.8 306.3 L753.9 306.6 L753.0 306.9 L752.0 307.2 L751.1 307.5 L750.4 307.8 L749.9 308.0Z" fill="#6d6428"/>

<path d="M785.8 348.3 L786.1 349.0 L786.6 350.0 L787.1 351.2 L787.7 352.5 L788.3 353.7 L788.9 354.9 L789.6 356.0 L790.2 357.1 L790.9 358.1 L791.5 359.1 L792.1 360.0 L792.5 360.8 L792.9 361.6 L793.3 362.3 L793.6 363.1 L793.9 363.8 L794.1 364.6 L794.3 365.4 L794.4 366.1 L794.5 367.0 L794.5 367.9 L794.5 369.0 L794.5 370.1 L794.6 371.3 L794.8 372.5 L795.1 373.6 L795.4 374.7 L795.7 375.7 L796.0 376.7 L796.3 377.6 L796.6 378.4 L796.9 379.3 L797.2 380.1 L797.4 380.8 L797.7 381.5 L797.9 382.1 L798.1 382.8 L798.2 383.6 L798.3 384.4 L798.4 385.2 L798.5 385.9 L798.6 386.4 L800.0 386.6 L800.2 386.1 L800.4 385.5 L800.7 384.7 L801.0 383.8 L801.2 382.8 L801.3 381.9 L801.3 380.9 L801.3 380.0 L801.2 379.1 L801.0 378.2 L800.9 377.3 L800.7 376.4 L800.5 375.4 L800.3 374.4 L800.0 373.4 L799.7 372.5 L799.5 371.5 L799.4 370.7 L799.3 369.9 L799.3 369.0 L799.4 368.0 L799.4 367.0 L799.4 365.8 L799.3 364.6 L799.1 363.5 L798.9 362.5 L798.7 361.4 L798.4 360.4 L798.0 359.3 L797.5 358.2 L796.9 357.1 L796.1 356.0 L795.4 355.0 L794.6 354.0 L793.8 353.0 L793.1 352.1 L792.3 351.1 L791.3 350.1 L790.4 349.0 L789.5 348.1 L788.8 347.3 L788.2 346.7Z" fill="#7c9a1e" stroke="#7c9a1e" stroke-width="0.5" stroke-linejoin="round"/>

<path d="M776.3 322.9 L776.8 323.7 L777.5 324.9 L778.3 326.4 L779.1 327.9 L779.9 329.5 L780.7 330.9 L781.5 332.3 L782.2 333.7 L783.0 335.2 L783.7 336.6 L784.5 338.0 L785.2 339.4 L785.9 340.8 L786.6 342.2 L787.3 343.5 L788.0 344.9 L788.6 346.2 L789.3 347.4 L790.0 348.6 L790.7 349.7 L791.4 350.9 L792.0 351.9 L792.6 352.7 L793.0 353.3 L794.0 352.7 L793.7 352.0 L793.2 351.2 L792.6 350.1 L792.0 349.0 L791.3 347.8 L790.7 346.6 L790.1 345.4 L789.5 344.1 L788.8 342.8 L788.2 341.4 L787.5 340.0 L786.8 338.6 L786.1 337.2 L785.3 335.8 L784.6 334.3 L783.8 332.9 L783.1 331.5 L782.3 330.1 L781.5 328.6 L780.6 327.1 L779.7 325.6 L778.9 324.2 L778.2 323.0 L777.7 322.1Z" fill="#7c9a1e" stroke="#7c9a1e" stroke-width="0.5" stroke-linejoin="round"/>

<path d="M748.4 310.3 L748.8 310.0 L749.3 309.6 L749.8 309.1 L750.4 308.6 L750.9 308.1 L751.4 307.8 L751.9 307.6 L752.4 307.3 L753.0 307.1 L753.6 306.9 L754.2 306.7 L754.8 306.5 L755.3 306.3 L755.9 306.1 L756.5 305.9 L757.1 305.8 L757.6 305.6 L758.0 305.5 L758.0 304.1 L757.6 304.0 L757.1 303.8 L756.5 303.7 L755.8 303.6 L755.0 303.5 L754.2 303.5 L753.5 303.6 L752.7 303.8 L751.9 304.0 L751.1 304.3 L750.4 304.7 L749.6 305.2 L748.9 305.8 L748.3 306.4 L747.7 307.1 L747.2 307.8 L746.8 308.3 L746.6 308.7Z" fill="#6e8a1c" stroke="#6e8a1c" stroke-width="0.5" stroke-linejoin="round"/>

<path d="M775.9 319.3 L775.8 318.9 L775.7 318.3 L775.6 317.7 L775.5 317.1 L775.5 316.6 L775.6 316.3 L775.7 316.0 L775.9 315.7 L776.3 315.3 L776.6 315.1 L776.9 314.9 L777.2 314.8 L777.4 314.8 L777.7 314.9 L778.1 315.0 L778.5 315.2 L779.0 315.5 L779.4 315.8 L779.7 316.1 L780.1 316.5 L780.5 317.0 L780.9 317.6 L781.5 318.1 L782.2 318.5 L783.0 318.6 L783.7 318.5 L784.4 318.3 L785.0 318.0 L785.6 317.6 L786.1 317.1 L786.4 316.5 L786.6 315.9 L786.7 315.2 L786.7 314.6 L786.6 314.0 L786.4 313.4 L785.9 312.9 L785.3 312.6 L784.8 312.5 L784.3 312.5 L783.9 312.4 L783.6 312.4 L783.4 313.6 L783.6 313.7 L784.0 313.8 L784.4 314.0 L784.7 314.1 L784.9 314.2 L784.8 314.2 L784.8 314.3 L784.8 314.7 L784.8 315.0 L784.7 315.4 L784.6 315.7 L784.5 315.9 L784.4 316.0 L784.1 316.2 L783.7 316.4 L783.3 316.5 L783.0 316.6 L782.8 316.5 L782.7 316.5 L782.4 316.2 L782.0 315.8 L781.6 315.2 L781.2 314.7 L780.6 314.2 L780.1 313.8 L779.5 313.5 L778.9 313.2 L778.3 312.9 L777.6 312.8 L776.8 312.8 L776.1 313.0 L775.5 313.4 L774.9 313.9 L774.4 314.4 L774.0 315.0 L773.6 315.7 L773.5 316.5 L773.6 317.3 L773.7 318.1 L773.9 318.7 L774.0 319.3 L774.1 319.7Z" fill="#7c9a1e" stroke="#7c9a1e" stroke-width="0.5" stroke-linejoin="round"/>

<path d="M809.1 392.2 L808.8 392.8 L808.4 393.5 L807.9 394.4 L807.4 395.4 L807.0 396.5 L806.6 397.6 L806.4 398.8 L806.2 400.0 L806.1 401.2 L805.9 402.2 L805.8 403.2 L805.6 404.1 L805.3 405.0 L805.0 406.0 L804.7 407.0 L804.4 408.0 L803.9 409.0 L803.5 410.0 L803.0 411.0 L802.4 412.0 L801.7 413.0 L801.0 414.1 L800.2 415.2 L799.4 416.3 L798.5 417.5 L797.6 418.7 L796.6 419.9 L795.6 421.1 L794.5 422.4 L793.5 423.7 L792.5 424.9 L791.5 426.1 L790.5 427.3 L789.5 428.5 L788.4 429.8 L787.3 431.1 L786.0 432.5 L784.7 433.9 L783.4 435.4 L782.2 436.7 L780.9 438.0 L779.7 439.2 L778.5 440.4 L777.2 441.5 L776.0 442.6 L774.8 443.6 L773.6 444.6 L772.4 445.4 L771.2 446.1 L769.9 446.8 L768.4 447.5 L766.9 448.3 L765.3 449.0 L763.6 449.7 L762.0 450.4 L760.4 451.1 L758.8 451.8 L757.2 452.5 L755.7 453.1 L754.2 453.7 L752.7 454.2 L751.3 454.7 L749.9 455.1 L748.4 455.5 L747.0 455.9 L745.7 456.3 L744.4 456.6 L743.1 456.8 L741.9 457.0 L740.6 457.2 L739.4 457.4 L738.2 457.5 L737.0 457.6 L735.7 457.8 L734.3 457.9 L733.1 457.9 L732.0 458.0 L731.2 458.0 L730.8 461.0 L731.5 461.3 L732.5 461.7 L733.7 462.1 L735.0 462.6 L736.4 463.1 L737.8 463.5 L739.1 463.8 L740.4 464.1 L741.8 464.3 L743.3 464.5 L744.8 464.6 L746.3 464.7 L747.9 464.8 L749.6 464.8 L751.3 464.8 L753.1 464.7 L755.0 464.6 L756.8 464.3 L758.7 464.0 L760.7 463.6 L762.6 463.1 L764.6 462.6 L766.5 462.0 L768.4 461.3 L770.2 460.6 L772.0 459.8 L773.9 459.0 L775.8 458.0 L777.7 456.9 L779.6 455.6 L781.3 454.3 L782.9 452.8 L784.4 451.4 L785.8 449.9 L787.0 448.4 L788.3 446.8 L789.5 445.1 L790.7 443.4 L791.8 441.6 L792.8 440.0 L793.8 438.4 L794.7 436.9 L795.7 435.6 L796.7 434.3 L797.6 433.0 L798.6 431.8 L799.5 430.6 L800.5 429.3 L801.5 428.1 L802.5 426.8 L803.6 425.6 L804.6 424.3 L805.7 423.0 L806.6 421.7 L807.5 420.4 L808.4 419.2 L809.2 417.9 L810.0 416.7 L810.8 415.4 L811.5 414.0 L812.2 412.7 L812.7 411.4 L813.3 410.0 L813.7 408.7 L814.1 407.3 L814.4 405.9 L814.6 404.4 L814.7 403.0 L814.8 401.6 L814.7 400.4 L814.7 399.3 L814.6 398.4 L814.5 397.4 L814.3 396.3 L814.1 395.2 L813.8 394.2 L813.7 393.4 L813.5 392.8Z" fill="#33290f" stroke="#33290f" stroke-width="0.8" stroke-linejoin="round"/>
<path d="M809.8 392.3 L809.6 392.9 L809.3 393.6 L809.0 394.5 L808.6 395.6 L808.3 396.6 L808.0 397.8 L807.8 398.9 L807.6 400.1 L807.5 401.3 L807.4 402.4 L807.3 403.4 L807.1 404.4 L806.8 405.4 L806.5 406.4 L806.2 407.5 L805.8 408.6 L805.3 409.6 L804.8 410.7 L804.3 411.7 L803.7 412.8 L803.0 413.8 L802.2 414.9 L801.4 416.1 L800.6 417.2 L799.7 418.4 L798.8 419.6 L797.8 420.8 L796.8 422.1 L795.7 423.4 L794.7 424.6 L793.7 425.9 L792.7 427.1 L791.7 428.3 L790.7 429.5 L789.6 430.7 L788.5 432.1 L787.3 433.5 L786.1 435.0 L784.9 436.4 L783.6 437.9 L782.4 439.2 L781.2 440.5 L779.9 441.7 L778.7 443.0 L777.4 444.1 L776.2 445.2 L774.9 446.2 L773.7 447.1 L772.3 447.9 L770.9 448.7 L769.3 449.5 L767.7 450.2 L766.1 451.0 L764.4 451.7 L762.8 452.4 L761.1 453.1 L759.5 453.7 L757.8 454.4 L756.2 455.0 L754.6 455.5 L753.1 455.9 L751.6 456.4 L750.1 456.8 L748.6 457.1 L747.2 457.4 L745.8 457.7 L744.4 457.9 L743.1 458.1 L741.9 458.3 L740.6 458.4 L739.4 458.5 L738.2 458.5 L736.9 458.6 L735.6 458.6 L734.2 458.6 L733.0 458.6 L731.9 458.5 L731.2 458.5 L730.9 460.4 L731.6 460.6 L732.6 460.9 L733.8 461.2 L735.1 461.6 L736.5 462.0 L737.9 462.2 L739.2 462.4 L740.5 462.6 L741.8 462.8 L743.2 462.9 L744.7 462.9 L746.2 463.0 L747.8 462.9 L749.4 462.9 L751.0 462.8 L752.7 462.6 L754.5 462.4 L756.3 462.1 L758.1 461.7 L759.9 461.3 L761.8 460.7 L763.7 460.2 L765.6 459.5 L767.4 458.9 L769.1 458.1 L770.9 457.4 L772.7 456.6 L774.6 455.6 L776.3 454.6 L778.1 453.5 L779.7 452.2 L781.2 450.9 L782.6 449.5 L784.0 448.1 L785.2 446.7 L786.5 445.2 L787.7 443.6 L788.9 442.0 L790.1 440.3 L791.1 438.7 L792.2 437.1 L793.2 435.7 L794.2 434.3 L795.2 433.1 L796.1 431.8 L797.1 430.6 L798.1 429.4 L799.0 428.1 L800.0 426.9 L801.1 425.6 L802.1 424.4 L803.1 423.1 L804.2 421.8 L805.1 420.5 L806.0 419.3 L806.8 418.1 L807.7 416.9 L808.4 415.7 L809.2 414.4 L809.8 413.2 L810.4 411.9 L811.0 410.6 L811.5 409.4 L811.9 408.1 L812.3 406.8 L812.6 405.5 L812.8 404.2 L812.9 402.8 L812.9 401.5 L812.9 400.3 L812.9 399.2 L812.9 398.2 L812.9 397.2 L812.8 396.1 L812.8 395.0 L812.7 394.1 L812.6 393.3 L812.6 392.7Z" fill="#594b22"/>
<path d="M811.5 392.5 L811.4 393.1 L811.3 393.9 L811.2 394.8 L811.1 395.9 L811.0 397.0 L810.9 398.0 L810.8 399.1 L810.8 400.2 L810.8 401.4 L810.7 402.6 L810.6 403.9 L810.4 405.1 L810.1 406.3 L809.7 407.4 L809.3 408.6 L808.9 409.8 L808.4 411.0 L807.8 412.2 L807.2 413.3 L806.5 414.5 L805.8 415.7 L805.0 416.8 L804.2 418.0 L803.3 419.2 L802.4 420.4 L801.4 421.7 L800.4 422.9 L799.3 424.2 L798.3 425.5 L797.3 426.7 L796.3 428.0 L795.3 429.2 L794.3 430.4 L793.4 431.6 L792.3 432.9 L791.3 434.2 L790.2 435.7 L789.1 437.2 L788.0 438.8 L786.8 440.3 L785.6 441.9 L784.3 443.3 L783.1 444.7 L781.8 446.0 L780.5 447.3 L779.2 448.6 L777.8 449.8 L776.3 450.9 L774.7 451.9 L773.1 452.9 L771.4 453.7 L769.7 454.5 L767.9 455.2 L766.2 456.0 L764.4 456.7 L762.7 457.3 L760.9 457.9 L759.1 458.5 L757.3 459.0 L755.6 459.4 L753.9 459.8 L752.3 460.1 L750.7 460.4 L749.1 460.6 L747.5 460.7 L746.0 460.8 L744.6 460.9 L743.2 461.0 L741.8 460.9 L740.5 460.9 L739.2 460.8 L738.0 460.7 L736.7 460.6 L735.3 460.4 L734.0 460.2 L732.8 459.9 L731.7 459.8 L731.0 459.6 L730.9 460.1 L731.6 460.3 L732.7 460.5 L733.9 460.9 L735.2 461.2 L736.6 461.5 L737.9 461.7 L739.2 461.9 L740.5 462.0 L741.8 462.1 L743.2 462.2 L744.7 462.2 L746.1 462.2 L747.7 462.1 L749.3 462.0 L750.9 461.9 L752.6 461.7 L754.3 461.5 L756.0 461.1 L757.8 460.7 L759.6 460.3 L761.5 459.7 L763.3 459.1 L765.2 458.5 L766.9 457.8 L768.7 457.1 L770.5 456.3 L772.3 455.5 L774.0 454.6 L775.8 453.6 L777.4 452.6 L779.0 451.4 L780.5 450.1 L781.9 448.7 L783.2 447.4 L784.5 446.0 L785.7 444.5 L787.0 443.0 L788.2 441.4 L789.3 439.8 L790.4 438.1 L791.5 436.6 L792.5 435.2 L793.5 433.8 L794.5 432.5 L795.5 431.3 L796.5 430.1 L797.4 428.9 L798.4 427.6 L799.4 426.4 L800.4 425.1 L801.5 423.9 L802.5 422.6 L803.5 421.3 L804.5 420.1 L805.3 418.8 L806.2 417.7 L807.0 416.5 L807.7 415.3 L808.5 414.0 L809.1 412.8 L809.7 411.6 L810.2 410.3 L810.7 409.1 L811.1 407.9 L811.5 406.6 L811.8 405.4 L812.0 404.1 L812.1 402.8 L812.2 401.5 L812.2 400.3 L812.2 399.2 L812.2 398.2 L812.2 397.1 L812.2 396.0 L812.2 395.0 L812.2 394.0 L812.2 393.2 L812.2 392.6Z" fill="#7b6c36"/>

<path d="M775.5 435.8 L775.0 435.5 L774.4 434.9 L773.6 434.1 L772.7 433.4 L771.6 432.7 L770.4 432.2 L769.2 431.9 L768.0 431.9 L766.8 432.0 L765.6 432.1 L764.4 432.4 L763.3 432.9 L762.2 433.4 L761.2 434.0 L760.2 434.8 L759.3 435.7 L758.5 436.6 L757.8 437.6 L757.3 438.7 L757.0 439.8 L756.8 441.0 L756.8 442.2 L756.9 443.5 L757.2 444.6 L757.7 445.8 L758.4 446.8 L759.3 447.8 L760.2 448.7 L761.2 449.5 L762.3 450.0 L763.5 450.4 L764.7 450.5 L765.9 450.5 L767.0 450.3 L768.0 450.0 L768.9 449.7 L769.8 449.2 L770.5 448.6 L771.0 447.9 L771.5 447.3 L771.8 446.8 L772.0 446.5 L771.0 445.5 L770.6 445.8 L770.2 446.2 L769.7 446.6 L769.1 446.9 L768.6 447.2 L768.1 447.3 L767.4 447.3 L766.6 447.4 L765.8 447.4 L764.9 447.3 L764.2 447.2 L763.7 447.0 L763.2 446.6 L762.6 446.0 L762.0 445.4 L761.5 444.7 L761.0 444.0 L760.8 443.4 L760.7 442.8 L760.6 442.1 L760.6 441.4 L760.7 440.7 L760.9 440.0 L761.2 439.4 L761.5 438.8 L762.0 438.2 L762.6 437.6 L763.3 437.0 L764.0 436.5 L764.7 436.1 L765.5 435.8 L766.3 435.6 L767.2 435.4 L768.1 435.4 L768.9 435.4 L769.6 435.4 L770.1 435.6 L770.8 436.0 L771.6 436.6 L772.4 437.2 L773.0 437.8 L773.5 438.2Z" fill="#565618" stroke="#565618" stroke-width="0.5" stroke-linejoin="round"/>

<path d="M774.9 436.5 L774.4 436.1 L773.8 435.6 L773.0 434.9 L772.2 434.2 L771.2 433.5 L770.2 433.1 L769.1 432.9 L768.0 432.9 L766.9 432.9 L765.8 433.1 L764.7 433.4 L763.7 433.8 L762.7 434.3 L761.8 434.9 L760.9 435.6 L760.1 436.4 L759.4 437.2 L758.8 438.1 L758.4 439.1 L758.1 440.1 L757.9 441.1 L757.9 442.2 L758.0 443.3 L758.2 444.3 L758.7 445.2 L759.3 446.2 L760.1 447.1 L760.9 447.9 L761.8 448.6 L762.7 449.1 L763.8 449.4 L764.9 449.5 L766.0 449.4 L767.1 449.3 L767.9 449.1 L768.5 449.0 L768.5 448.0 L767.8 448.0 L766.9 448.1 L766.0 448.2 L764.9 448.2 L764.0 448.1 L763.3 447.9 L762.6 447.4 L761.9 446.8 L761.2 446.1 L760.6 445.3 L760.1 444.5 L759.8 443.7 L759.6 443.0 L759.5 442.2 L759.5 441.3 L759.7 440.4 L759.9 439.6 L760.2 438.9 L760.6 438.2 L761.2 437.5 L761.9 436.8 L762.7 436.2 L763.5 435.7 L764.3 435.2 L765.2 434.9 L766.1 434.6 L767.1 434.5 L768.1 434.4 L769.0 434.4 L769.8 434.5 L770.6 434.8 L771.4 435.2 L772.2 435.9 L773.0 436.5 L773.6 437.1 L774.1 437.5Z" fill="#8a9a22" stroke="#8a9a22" stroke-width="0.5" stroke-linejoin="round"/>

<path d="M782.1 416.4 L782.2 416.8 L782.3 417.4 L782.5 418.1 L782.7 418.8 L782.9 419.6 L783.1 420.3 L783.3 420.9 L783.6 421.6 L783.8 422.3 L784.0 423.0 L784.3 423.7 L784.6 424.4 L784.9 425.0 L785.2 425.8 L785.5 426.5 L785.9 427.2 L786.3 427.9 L786.8 428.6 L787.4 429.2 L788.0 429.7 L788.6 430.1 L789.2 430.5 L789.7 430.8 L790.1 431.1 L790.9 429.9 L790.6 429.7 L790.1 429.3 L789.6 428.9 L789.1 428.4 L788.6 427.9 L788.2 427.4 L787.9 426.9 L787.5 426.3 L787.2 425.7 L786.8 425.0 L786.5 424.3 L786.2 423.6 L786.0 423.0 L785.7 422.4 L785.5 421.7 L785.3 421.0 L785.1 420.4 L784.9 419.7 L784.6 419.0 L784.4 418.3 L784.1 417.6 L783.9 416.9 L783.7 416.4 L783.5 416.0Z" fill="#86a51f" stroke="#86a51f" stroke-width="0.5" stroke-linejoin="round"/>

<path d="M744.3 441.9 L744.6 442.5 L745.0 443.2 L745.4 444.1 L746.0 445.1 L746.5 446.1 L747.1 447.1 L747.6 448.1 L748.2 449.1 L748.8 450.3 L749.4 451.4 L750.2 452.5 L751.1 453.5 L752.2 454.2 L753.3 454.8 L754.4 455.3 L755.6 455.7 L756.7 456.0 L757.8 456.2 L758.9 456.3 L760.0 456.4 L761.1 456.4 L762.1 456.4 L763.2 456.2 L764.2 456.0 L765.3 455.6 L766.3 455.0 L767.3 454.4 L768.1 453.9 L768.8 453.4 L769.3 453.0 L768.7 452.0 L768.1 452.2 L767.4 452.6 L766.5 453.1 L765.5 453.5 L764.6 453.8 L763.8 454.0 L762.9 454.1 L762.0 454.2 L761.1 454.2 L760.1 454.1 L759.2 454.0 L758.2 453.8 L757.3 453.6 L756.3 453.3 L755.3 452.9 L754.4 452.5 L753.6 452.1 L752.9 451.5 L752.2 450.9 L751.5 450.0 L750.9 449.0 L750.2 448.0 L749.6 446.9 L748.9 445.9 L748.3 445.0 L747.7 444.1 L747.1 443.1 L746.5 442.3 L746.0 441.6 L745.7 441.1Z" fill="#86a51f" stroke="#86a51f" stroke-width="0.5" stroke-linejoin="round"/>

<path d="M748.7 460.8 L748.5 461.1 L748.2 461.5 L747.8 461.9 L747.3 462.4 L746.9 463.0 L746.6 463.7 L746.5 464.4 L746.5 465.0 L746.6 465.6 L746.8 466.2 L747.0 466.8 L747.4 467.3 L747.9 467.7 L748.5 467.9 L749.1 468.1 L749.6 468.2 L750.1 468.2 L750.4 468.3 L750.6 467.3 L750.3 467.2 L749.9 467.0 L749.5 466.9 L749.0 466.7 L748.7 466.5 L748.6 466.3 L748.5 466.1 L748.5 465.8 L748.4 465.4 L748.4 465.0 L748.5 464.6 L748.6 464.3 L748.7 464.0 L748.9 463.7 L749.3 463.2 L749.7 462.8 L750.0 462.4 L750.3 462.2Z" fill="#7f901f" stroke="#7f901f" stroke-width="0.5" stroke-linejoin="round"/>

<path d="M745.5 456.6 L744.7 456.3 L743.7 455.9 L742.4 455.5 L741.0 455.1 L739.6 454.7 L738.2 454.4 L736.9 454.3 L735.6 454.3 L734.2 454.3 L733.0 454.4 L731.7 454.6 L730.6 454.9 L729.5 455.2 L728.5 455.5 L727.5 456.0 L726.5 456.5 L725.6 457.1 L724.8 457.8 L724.1 458.5 L723.5 459.4 L722.9 460.3 L722.4 461.3 L722.1 462.3 L721.9 463.3 L721.9 464.3 L722.1 465.3 L722.4 466.3 L722.9 467.1 L723.4 467.9 L724.1 468.5 L724.9 469.1 L725.7 469.4 L726.6 469.6 L727.5 469.7 L728.4 469.7 L729.3 469.6 L730.0 469.2 L730.7 468.7 L731.3 468.1 L731.7 467.5 L732.1 466.9 L732.3 466.2 L732.3 465.5 L732.0 464.8 L731.7 464.3 L731.4 463.8 L731.1 463.5 L730.9 463.3 L730.1 463.7 L730.2 464.0 L730.4 464.5 L730.6 464.9 L730.7 465.3 L730.8 465.6 L730.7 465.8 L730.6 466.1 L730.3 466.4 L729.9 466.8 L729.4 467.1 L729.0 467.4 L728.7 467.4 L728.4 467.4 L727.8 467.3 L727.2 467.2 L726.7 467.0 L726.2 466.7 L725.9 466.5 L725.7 466.1 L725.5 465.7 L725.3 465.2 L725.1 464.6 L725.1 464.1 L725.1 463.7 L725.2 463.2 L725.5 462.6 L725.8 462.0 L726.2 461.3 L726.7 460.7 L727.2 460.2 L727.7 459.8 L728.3 459.4 L729.0 459.0 L729.7 458.7 L730.5 458.4 L731.4 458.1 L732.4 457.9 L733.4 457.8 L734.5 457.6 L735.6 457.5 L736.7 457.5 L737.8 457.6 L738.9 457.8 L740.2 458.1 L741.5 458.4 L742.7 458.8 L743.8 459.2 L744.5 459.4Z" fill="#788a1e" stroke="#788a1e" stroke-width="0.5" stroke-linejoin="round"/>

<path d="M732.4 462.6 L732.7 462.8 L733.1 463.2 L733.5 463.6 L733.9 464.0 L734.2 464.4 L734.3 464.6 L734.3 464.7 L734.2 465.1 L733.9 465.6 L733.6 466.0 L733.3 466.4 L733.1 466.7 L733.9 467.3 L734.1 467.1 L734.4 466.7 L734.9 466.3 L735.3 465.7 L735.6 465.1 L735.7 464.4 L735.5 463.7 L735.1 463.1 L734.6 462.6 L734.2 462.1 L733.8 461.7 L733.6 461.4Z" fill="#6a7a1c" stroke="#6a7a1c" stroke-width="0.5" stroke-linejoin="round"/>

<path d="M680.8 414.4 L680.5 414.9 L680.2 415.7 L679.8 416.6 L679.4 417.6 L679.0 418.7 L678.6 419.8 L678.2 420.8 L677.9 422.0 L677.5 423.2 L677.1 424.4 L676.8 425.8 L676.5 427.1 L676.3 428.4 L676.1 429.8 L676.0 431.2 L676.0 432.5 L676.0 433.9 L676.2 435.3 L676.4 436.7 L676.8 438.0 L677.1 439.3 L677.6 440.5 L678.1 441.5 L678.6 442.5 L679.3 443.6 L680.2 444.5 L681.1 445.4 L681.9 446.1 L682.6 446.7 L683.1 447.1 L689.9 442.9 L689.7 442.2 L689.5 441.3 L689.2 440.3 L688.9 439.3 L688.7 438.3 L688.4 437.5 L688.0 436.6 L687.6 435.8 L687.1 435.0 L686.7 434.2 L686.2 433.4 L685.8 432.7 L685.4 431.9 L685.0 430.9 L684.6 430.0 L684.2 428.9 L683.8 427.9 L683.5 426.9 L683.2 425.9 L683.0 424.8 L682.8 423.6 L682.6 422.5 L682.5 421.3 L682.4 420.2 L682.3 419.2 L682.3 418.1 L682.2 417.0 L682.2 416.1 L682.2 415.3 L682.2 414.6Z" fill="#2c250d" stroke="#2c250d" stroke-width="0.8" stroke-linejoin="round"/>
<path d="M681.0 414.4 L680.8 415.0 L680.6 415.7 L680.2 416.7 L679.9 417.7 L679.6 418.8 L679.3 419.8 L679.0 420.9 L678.7 422.1 L678.4 423.3 L678.1 424.5 L677.9 425.8 L677.7 427.1 L677.6 428.4 L677.5 429.6 L677.5 431.0 L677.5 432.3 L677.6 433.6 L677.8 434.9 L678.1 436.1 L678.4 437.4 L678.8 438.6 L679.3 439.7 L679.8 440.7 L680.3 441.7 L680.9 442.7 L681.7 443.6 L682.5 444.5 L683.2 445.3 L683.8 445.9 L684.3 446.4 L688.5 443.8 L688.2 443.2 L687.9 442.4 L687.5 441.4 L687.1 440.4 L686.7 439.4 L686.3 438.5 L685.9 437.7 L685.5 436.8 L685.0 435.9 L684.6 435.0 L684.2 434.1 L683.8 433.2 L683.5 432.3 L683.1 431.3 L682.8 430.2 L682.5 429.1 L682.2 428.0 L682.0 426.9 L681.9 425.8 L681.7 424.7 L681.7 423.5 L681.6 422.4 L681.6 421.2 L681.6 420.1 L681.6 419.1 L681.7 418.0 L681.7 416.9 L681.8 416.0 L681.9 415.2 L681.9 414.6Z" fill="#463d18"/>
<path d="M681.6 414.5 L681.5 415.1 L681.3 415.9 L681.1 416.8 L680.9 417.9 L680.8 419.0 L680.7 420.0 L680.5 421.1 L680.4 422.2 L680.3 423.4 L680.3 424.6 L680.2 425.8 L680.3 427.0 L680.4 428.2 L680.5 429.3 L680.7 430.5 L680.9 431.7 L681.1 432.8 L681.4 433.9 L681.7 434.9 L682.1 436.0 L682.5 437.0 L683.0 437.9 L683.4 438.9 L683.9 439.8 L684.4 440.7 L684.9 441.7 L685.5 442.7 L686.0 443.5 L686.5 444.3 L686.8 444.8 L687.9 444.2 L687.6 443.6 L687.2 442.8 L686.8 441.9 L686.3 440.9 L685.9 439.9 L685.5 439.0 L685.0 438.1 L684.6 437.2 L684.1 436.3 L683.7 435.3 L683.3 434.4 L682.9 433.5 L682.6 432.5 L682.3 431.4 L682.0 430.3 L681.8 429.2 L681.6 428.1 L681.4 427.0 L681.3 425.8 L681.2 424.7 L681.2 423.5 L681.2 422.3 L681.2 421.2 L681.3 420.1 L681.3 419.0 L681.4 418.0 L681.5 416.9 L681.6 416.0 L681.7 415.2 L681.8 414.6Z" fill="#6d6428"/>

<path d="M670.6 428.4 L670.6 429.1 L670.6 430.1 L670.7 431.3 L670.8 432.6 L671.0 434.0 L671.3 435.3 L671.7 436.6 L672.2 437.8 L672.8 439.1 L673.4 440.3 L674.1 441.5 L674.9 442.5 L675.8 443.6 L676.7 444.6 L677.7 445.5 L678.8 446.4 L679.8 447.1 L680.9 447.8 L682.0 448.3 L683.2 448.7 L684.2 448.8 L685.1 448.8 L685.8 448.8 L686.2 448.8 L687.8 445.2 L687.4 444.8 L686.9 444.3 L686.4 443.8 L685.9 443.3 L685.5 442.7 L685.1 442.2 L684.6 441.6 L684.0 440.8 L683.3 440.0 L682.5 439.1 L681.8 438.3 L681.1 437.5 L680.4 436.7 L679.6 435.9 L678.8 435.0 L678.1 434.2 L677.3 433.4 L676.7 432.7 L676.1 431.9 L675.5 431.0 L674.8 430.0 L674.3 429.0 L673.8 428.2 L673.4 427.6Z" fill="#3a3212" stroke="#3a3212" stroke-width="0.5" stroke-linejoin="round"/>

<path d="M688.6 447.3 L689.2 446.5 L689.9 445.5 L690.8 444.2 L691.8 442.8 L692.7 441.4 L693.6 440.0 L694.4 438.5 L695.2 437.0 L695.9 435.5 L696.5 434.1 L697.2 432.7 L697.9 431.5 L698.6 430.2 L699.3 429.1 L700.0 428.0 L700.7 427.0 L701.4 426.2 L702.1 425.4 L702.9 424.8 L703.8 424.1 L704.7 423.6 L705.7 423.1 L706.7 422.7 L707.7 422.5 L708.8 422.4 L710.1 422.4 L711.5 422.6 L712.8 422.8 L714.1 423.2 L715.3 423.6 L716.4 424.1 L717.5 424.7 L718.5 425.5 L719.6 426.4 L720.6 427.2 L721.5 428.0 L722.3 428.7 L723.0 429.5 L723.7 430.3 L724.4 431.1 L725.1 431.9 L725.9 432.4 L726.9 432.8 L727.8 432.8 L728.6 432.6 L729.3 432.4 L729.7 432.2 L730.1 432.1 L729.9 430.9 L729.5 430.9 L729.0 430.9 L728.4 431.0 L727.8 430.9 L727.4 430.8 L727.1 430.6 L726.7 430.2 L726.2 429.6 L725.7 428.8 L725.1 427.9 L724.3 426.9 L723.5 426.0 L722.6 425.1 L721.6 424.1 L720.5 423.1 L719.3 422.1 L718.1 421.2 L716.7 420.4 L715.2 419.8 L713.7 419.3 L712.1 418.9 L710.5 418.7 L708.9 418.5 L707.3 418.5 L705.8 418.7 L704.3 419.0 L702.9 419.4 L701.5 420.0 L700.2 420.7 L698.9 421.6 L697.7 422.5 L696.7 423.7 L695.7 424.8 L694.8 426.1 L694.0 427.3 L693.1 428.5 L692.2 429.9 L691.4 431.4 L690.6 432.9 L689.8 434.3 L689.1 435.7 L688.4 437.0 L687.6 438.4 L686.9 439.9 L686.1 441.3 L685.4 442.7 L684.8 443.9 L684.4 444.7Z" fill="#3f3a14" stroke="#3f3a14" stroke-width="0.8" stroke-linejoin="round"/>
<path d="M687.9 446.9 L688.4 446.1 L689.2 445.0 L690.0 443.7 L691.0 442.3 L691.9 440.9 L692.7 439.5 L693.5 438.0 L694.2 436.6 L695.0 435.1 L695.7 433.6 L696.4 432.2 L697.1 431.0 L697.8 429.7 L698.5 428.5 L699.3 427.4 L700.0 426.4 L700.7 425.6 L701.5 424.8 L702.4 424.1 L703.4 423.4 L704.4 422.9 L705.4 422.4 L706.5 422.0 L707.6 421.8 L708.8 421.7 L710.2 421.8 L711.6 421.9 L713.0 422.2 L714.3 422.6 L715.5 423.0 L716.7 423.6 L717.8 424.3 L718.9 425.1 L719.9 426.0 L720.9 426.9 L721.9 427.7 L722.7 428.4 L723.4 429.2 L724.0 430.1 L724.7 430.9 L725.4 431.6 L726.1 432.1 L727.0 432.4 L727.8 432.4 L728.6 432.3 L729.2 432.1 L729.7 432.0 L730.1 431.9 L730.0 431.2 L729.6 431.2 L729.0 431.2 L728.4 431.3 L727.8 431.3 L727.3 431.2 L726.8 431.0 L726.4 430.5 L725.8 429.9 L725.3 429.1 L724.6 428.2 L723.9 427.3 L723.1 426.4 L722.2 425.5 L721.2 424.6 L720.1 423.6 L719.0 422.7 L717.7 421.8 L716.4 421.1 L715.0 420.5 L713.5 420.1 L712.0 419.7 L710.4 419.4 L708.9 419.3 L707.4 419.3 L706.0 419.5 L704.6 419.8 L703.3 420.3 L702.0 420.9 L700.8 421.6 L699.6 422.4 L698.5 423.3 L697.5 424.4 L696.6 425.5 L695.7 426.7 L694.9 427.9 L694.1 429.2 L693.3 430.5 L692.5 431.9 L691.7 433.4 L690.9 434.9 L690.2 436.3 L689.5 437.7 L688.7 439.0 L687.9 440.5 L687.1 441.9 L686.4 443.3 L685.7 444.4 L685.3 445.2Z" fill="#6a6a22"/>
<path d="M686.3 445.9 L686.8 445.1 L687.5 444.0 L688.3 442.7 L689.1 441.2 L690.0 439.8 L690.8 438.4 L691.5 437.0 L692.3 435.6 L693.0 434.1 L693.8 432.6 L694.5 431.2 L695.3 429.9 L696.1 428.6 L696.9 427.4 L697.7 426.3 L698.5 425.2 L699.4 424.2 L700.4 423.3 L701.4 422.6 L702.5 421.9 L703.7 421.3 L704.9 420.9 L706.2 420.5 L707.5 420.3 L708.9 420.3 L710.3 420.4 L711.8 420.6 L713.3 420.9 L714.7 421.4 L716.1 421.9 L717.3 422.5 L718.5 423.3 L719.6 424.2 L720.7 425.2 L721.7 426.1 L722.6 426.9 L723.4 427.8 L724.1 428.6 L724.8 429.5 L725.4 430.3 L726.0 430.9 L726.5 431.4 L727.2 431.7 L727.8 431.8 L728.5 431.7 L729.1 431.6 L729.6 431.5 L730.0 431.5 L730.0 431.3 L729.6 431.3 L729.1 431.4 L728.5 431.5 L727.8 431.5 L727.3 431.4 L726.7 431.1 L726.2 430.7 L725.7 430.0 L725.1 429.3 L724.4 428.4 L723.7 427.5 L722.9 426.6 L722.0 425.7 L721.0 424.8 L719.9 423.8 L718.8 422.9 L717.6 422.1 L716.3 421.4 L714.9 420.8 L713.4 420.4 L711.9 420.0 L710.4 419.8 L708.9 419.7 L707.4 419.7 L706.1 419.9 L704.7 420.2 L703.4 420.7 L702.2 421.3 L701.0 421.9 L699.9 422.7 L698.8 423.6 L697.9 424.7 L697.0 425.8 L696.2 427.0 L695.4 428.2 L694.5 429.4 L693.7 430.8 L692.9 432.2 L692.2 433.7 L691.4 435.1 L690.7 436.6 L690.0 437.9 L689.2 439.3 L688.3 440.8 L687.5 442.2 L686.8 443.5 L686.1 444.7 L685.6 445.5Z" fill="#8a9a22"/>

<path d="M682.4 416.5 L682.6 416.1 L682.9 415.5 L683.2 414.9 L683.6 414.4 L684.0 414.0 L684.4 413.7 L685.0 413.5 L685.8 413.4 L686.8 413.4 L687.8 413.4 L688.9 413.4 L689.9 413.5 L690.9 413.6 L692.0 413.9 L693.2 414.2 L694.3 414.4 L695.4 414.7 L696.4 414.8 L697.4 414.8 L698.2 414.7 L699.0 414.6 L699.7 414.4 L700.4 414.2 L701.0 413.8 L701.4 413.2 L701.6 412.6 L701.7 411.9 L701.7 411.4 L701.7 410.9 L701.7 410.7 L700.7 410.5 L700.6 410.9 L700.6 411.3 L700.5 411.8 L700.4 412.2 L700.2 412.5 L700.0 412.6 L699.7 412.8 L699.3 412.9 L698.7 413.1 L698.1 413.2 L697.3 413.2 L696.6 413.2 L695.7 413.1 L694.7 412.8 L693.6 412.5 L692.4 412.2 L691.3 411.9 L690.1 411.7 L689.0 411.6 L687.9 411.5 L686.7 411.5 L685.6 411.5 L684.6 411.6 L683.6 411.9 L682.7 412.4 L682.0 413.1 L681.5 413.9 L681.1 414.6 L680.9 415.1 L680.6 415.5Z" fill="#6f8a1e" stroke="#6f8a1e" stroke-width="0.5" stroke-linejoin="round"/>

<path d="M685.2 445.4 L685.0 445.7 L684.6 446.1 L684.1 446.7 L683.7 447.3 L683.3 448.0 L683.0 448.8 L683.0 449.7 L683.3 450.4 L683.6 451.0 L683.9 451.6 L684.2 452.0 L684.4 452.3 L685.6 451.7 L685.5 451.4 L685.3 450.9 L685.2 450.3 L685.0 449.8 L685.0 449.4 L685.0 449.2 L685.1 448.9 L685.4 448.4 L685.7 447.9 L686.2 447.4 L686.5 447.0 L686.8 446.6Z" fill="#6f8a1e" stroke="#6f8a1e" stroke-width="0.5" stroke-linejoin="round"/>

</g>
</svg>
</body></html>
